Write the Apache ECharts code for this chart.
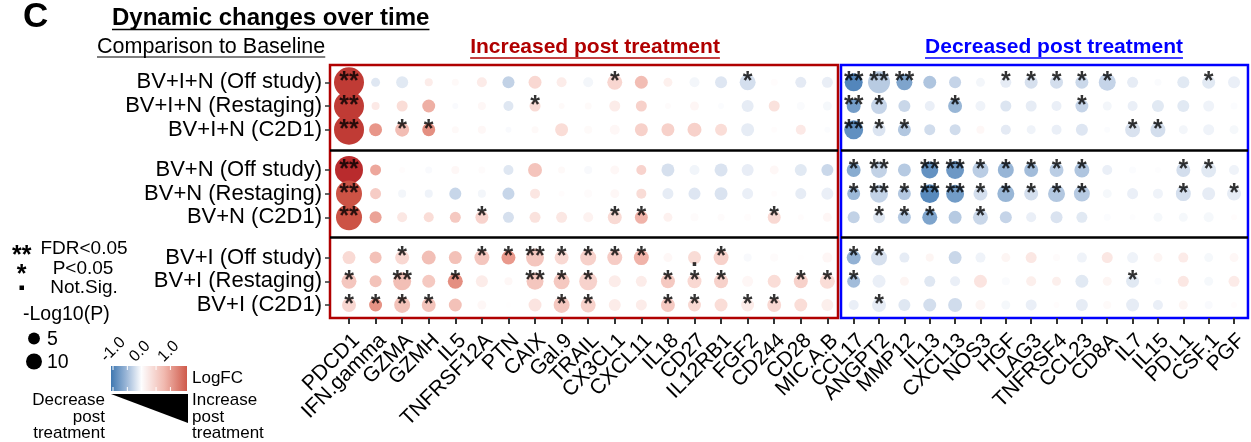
<!DOCTYPE html>
<html><head><meta charset="utf-8">
<script src="https://cdn.jsdelivr.net/npm/echarts@6/dist/echarts.min.js"></script>
<style>html,body{margin:0;padding:0;background:#fff}#c{width:1251px;height:442px}</style>
</head><body><div id="c"></div>
<script>
// ---------------- DATA ----------------
const genesUp = ['PDCD1','IFN.gamma','GZMA','GZMH','IL5','TNFRSF12A','PTN','CAIX','Gal.9','TRAIL','CX3CL1','CXCL11','IL18','CD27','IL12RB1','FGF2','CD244','CD28','MIC.A.B'];
const genesDown = ['CCL17','ANGPT2','MMP12','IL13','CXCL13','NOS3','HGF','LAG3','TNFRSF4','CCL23','CD8A','IL7','IL15','PD.L1','CSF.1','PGF'];
const rowLabels = ['BV+I+N (Off study)','BV+I+N (Restaging)','BV+I+N (C2D1)','BV+N (Off study)','BV+N (Restaging)','BV+N (C2D1)','BV+I (Off study)','BV+I (Restaging)','BV+I (C2D1)'];
const rowGroupSize = 3;

// LogFC per row (columns = genesUp then genesDown)
const logFC = [
 [1.95,-0.26,-0.24,0.15,0.05, 0.16,-0.47,0.31,0.15,-0.1, 0.33,0.6,0.12,-0.1,-0.27, -0.34,0.02,-0.22,-0.18,-1.15, -0.54,-0.9,-0.6,-0.45,-0.1, -0.2,-0.33,-0.35,-0.41,-0.45, -0.2,-0.04,-0.24,-0.24,-0.17],
 [1.95,0.17,0.27,0.72,-0.05, 0.06,-0.26,0.29,0.04,0.04, 0.15,0.39,0.03,0.07,-0.03, -0.2,0.23,-0.04,-0.08,-0.96, -0.45,-0.42,-0.17,-0.74,-0.13, -0.28,-0.2,-0.17,-0.45,-0.1, -0.17,-0.24,-0.24,-0.13,-0.03],
 [1.95,0.93,0.6,1.0,0.05, 0.06,-0.05,0.05,0.27,0.04, 0.06,0.39,0.39,0.39,0.27, -0.2,0.02,0.17,-0.03,-1.07, -0.29,-0.58,-0.37,-0.37,0.06, -0.22,-0.13,-0.17,-0.27,-0.03, -0.31,-0.35,-0.1,-0.13,-0.08],
 [2.2,0.78,0.02,-0.05,0.06, 0.03,-0.26,0.52,0.05,-0.06, 0.06,0.36,-0.33,-0.11,-0.3, -0.19,0.06,-0.24,-0.41,-0.83, -0.47,-0.55,-1.05,-1.0,-0.52, -0.75,-0.68,-0.52,-0.6,-0.17, -0.03,-0.02,-0.35,-0.24,-0.13],
 [1.6,0.44,-0.1,-0.13,-0.43, -0.1,-0.43,0.2,0.02,0.03, 0.06,0.28,-0.2,-0.27,-0.3, -0.17,0.02,-0.2,-0.17,-0.72, -0.47,-0.58,-1.12,-0.97,-0.35, -0.74,-0.35,-0.58,-0.55,-0.08, -0.17,-0.13,-0.35,-0.2,-0.2],
 [1.6,0.82,0.19,0.27,0.47, 0.36,-0.33,0.23,0.19,0.1, 0.29,0.68,0.11,0.03,0.03, 0.02,0.3,0.02,0.07,-0.47, -0.26,-0.57,-0.9,-0.55,-0.42, -0.45,-0.17,-0.3,-0.24,-0.03, -0.02,-0.08,-0.08,-0.08,0.02],
 [0.29,0.56,0.31,0.58,0.56, 0.5,0.9,0.5,0.3,0.39, 0.44,0.68,0.06,0.28,0.39, -0.06,0.03,0.01,0.07,-0.78, -0.33,-0.2,0.08,-0.42,-0.13, 0.08,0.19,0.03,-0.13,0.19, -0.13,0.08,0.16,-0.08,0.06],
 [0.5,0.54,0.58,0.47,1.0, 0.15,0.06,0.5,0.48,0.37, 0.15,0.15,0.47,0.31,0.39, 0.07,0.27,0.39,0.27,-0.68, -0.17,0.08,-0.26,-0.17,0.21, -0.04,0.13,0.13,-0.24,0.08, -0.24,-0.03,0.19,-0.08,0.16],
 [0.33,0.97,0.55,0.54,0.56, 0.06,0.01,0.21,0.48,0.39, 0.15,0.15,0.47,0.31,0.27, 0.16,0.31,0.27,0.13,-0.17, -0.2,-0.26,-0.35,-0.37,0.08, -0.08,-0.17,0.02,-0.2,0.04, -0.2,-0.17,0.08,-0.05,0.02]
];

// -Log10(P) per row
const negLog10P = [
 [40.5,2.5,5.2,1.9,1.3, 3.3,5.2,6.2,3.3,3.3, 8.7,6.2,2.5,3.3,5.2, 10.1,1.3,4.2,4.2,13.2, 20.7,10.1,6.2,5.2,2.5, 4.2,6.2,6.2,6.2,11.6, 4.2,1.3,5.2,6.2,5.2],
 [40.5,1.9,4.2,6.2,0.8, 1.9,3.3,4.2,0.8,1.3, 4.2,4.2,0.8,2.5,0.8, 5.2,4.2,1.9,2.5,7.4, 10.1,5.2,3.3,7.4,3.3, 4.2,4.2,3.3,6.2,2.5, 3.3,5.2,5.2,4.2,1.3],
 [40.5,6.2,7.4,6.2,1.3, 1.9,0.8,1.3,6.2,1.9, 3.3,6.2,6.2,7.4,5.2, 6.2,0.8,3.3,0.8,14.9, 6.2,6.2,4.2,4.2,1.9, 3.3,2.5,3.3,5.2,0.8, 8.7,8.7,2.5,4.2,2.5],
 [34.9,4.2,0.8,1.3,1.9, 1.3,3.3,7.4,1.3,1.9, 2.5,3.3,6.2,3.3,6.2, 5.2,2.5,5.2,5.2,7.4, 10.1,6.2,11.6,13.2,10.1, 10.1,7.4,7.4,8.7,3.3, 1.3,0.8,7.4,8.7,3.3],
 [29.8,4.2,1.9,1.9,5.2, 1.9,5.2,3.3,0.8,1.9, 2.5,3.3,4.2,5.2,6.2, 4.2,0.8,4.2,5.2,6.2, 13.2,6.2,14.9,13.2,7.4, 11.6,7.4,11.6,10.1,2.5, 4.2,3.3,8.7,6.2,7.4],
 [29.8,5.2,3.3,3.3,4.2, 6.2,4.2,4.2,4.2,3.3, 7.4,6.2,2.5,1.9,1.3, 1.3,6.2,0.8,2.5,5.2, 5.2,6.2,8.7,6.2,8.7, 5.2,3.3,5.2,4.2,1.3, 0.8,2.5,2.5,3.3,0.8],
 [6.2,5.2,7.4,7.4,6.2, 8.7,7.4,13.2,7.4,10.1, 8.7,8.7,2.5,6.2,8.7, 1.9,1.9,0.8,3.3,7.4, 10.1,3.3,1.9,6.2,3.3, 2.5,4.2,1.3,3.3,4.2, 4.2,2.5,3.3,2.5,2.5],
 [8.7,5.2,13.2,6.2,8.7, 5.2,1.9,11.6,10.1,13.2, 5.2,4.2,7.4,7.4,7.4, 4.2,6.2,7.4,8.7,6.2, 6.2,2.5,4.2,3.3,6.2, 1.9,3.3,2.5,6.2,2.5, 6.2,1.3,4.2,2.5,4.2],
 [7.4,6.2,10.1,7.4,6.2, 2.5,0.8,6.2,10.1,8.7, 5.2,4.2,7.4,6.2,6.2, 6.2,7.4,6.2,5.2,3.3, 7.4,5.2,6.2,7.4,3.3, 2.5,4.2,0.8,5.2,1.9, 6.2,3.3,2.5,1.9,0.8]
];

// Significance marks: '**' FDR<0.05, '*' P<0.05, '.' Not.Sig.
const signif = [
 ['**','','','','', '','','','','', '*','','','','', '*','','','','**', '**','**','','','', '*','*','*','*','*', '','','','*',''],
 ['**','','','','', '','','*','','', '','','','','', '','','','','**', '*','','','*','', '','','','*','', '','','','',''],
 ['**','','*','*','', '','','','','', '','','','','', '','','','','**', '*','*','','','', '','','','','', '*','*','','',''],
 ['**','','','','', '','','','','', '','','','','', '','','','','*', '**','','**','**','*', '*','*','*','*','', '','','*','*',''],
 ['**','','','','', '','','','','', '','','','','', '','','','','*', '**','*','**','**','*', '*','*','*','*','', '','','*','','*'],
 ['**','','','','', '*','','','','', '*','*','','','', '','*','','','', '*','*','*','','*', '','','','','', '','','','',''],
 ['','','*','','', '*','*','**','*','*', '*','*','','.','*', '','','','','*', '*','','','','', '','','','','', '','','','',''],
 ['*','','**','','*', '','','**','*','*', '','','*','*','*', '','','*','*','*', '','','','','', '','','','','', '*','','','',''],
 ['*','*','*','*','', '','','','*','*', '','','*','*','', '*','*','','','', '*','','','','', '','','','','', '','','','','']
];

const colorTicks = [-1.0, 0.0, 1.0];
const sizeBreaks = [5, 10];

// ---------------- LAYOUT / STYLE ----------------
const FONT = 'Liberation Sans, Arial, Helvetica, sans-serif';
const GROUP_STEP = 3.7;
const rowPos = r => Math.floor(r / rowGroupSize) * GROUP_STEP + (r % rowGroupSize);
const Y_MIN = -0.73, Y_MAX = 9.95;
const separators = [];
for (let g = 1; g < rowLabels.length / rowGroupSize; g++) {
  separators.push((rowPos(g * rowGroupSize - 1) + rowPos(g * rowGroupSize)) / 2);
}
const sizeFn = v => 2 + 4.4 * Math.sqrt(v);
const palette = ['#4a80b8','#7ea4cc','#afc5df','#dae3f0','#ffffff','#f9d9d3','#f2bdb4','#e9998c','#db7a6b','#cf5a4b','#c5463a','#bb3030','#b52226'];

const nUp = genesUp.length;
function buildData(offset, count) {
  const out = [];
  for (let r = 0; r < rowLabels.length; r++) {
    for (let c = 0; c < count; c++) {
      const k = offset + c;
      out.push([c, rowPos(r), logFC[r][k], negLog10P[r][k]]);
    }
  }
  return out;
}
function buildMarks(offset, count) {
  const out = [];
  for (let r = 0; r < rowLabels.length; r++) {
    for (let c = 0; c < count; c++) {
      const s = signif[r][offset + c];
      if (s) out.push({ value: [c, rowPos(r)], label: { formatter: s, offset: s === '.' ? [0, 2] : [0, 0] } });
    }
  }
  return out;
}

const ctx = document.createElement('canvas').getContext('2d');
function tw(font, s) { ctx.font = font; return ctx.measureText(s).width; }

const yCustom = rowLabels.map((_, r) => rowPos(r));
function yLabel(v) {
  let best = 0, bd = 1e9;
  yCustom.forEach((p, i) => { const d = Math.abs(p - v); if (d < bd) { bd = d; best = i; } });
  return rowLabels[best];
}

// x axis builder: dummy empty labels at the ends keep every real label visible
function makeX(gridIndex, names, min, max) {
  const idx = names.map((_, i) => i);
  return {
    type: 'value', gridIndex, min, max,
    splitLine: { show: false }, axisLine: { show: false, onZero: false },
    axisTick: { show: true, length: 6, customValues: idx, lineStyle: { color: '#333', width: 2 } },
    axisLabel: {
      customValues: [min + 0.01].concat(idx, [max - 0.01]),
      formatter: v => (Math.abs(v - Math.round(v)) < 1e-6 ? names[Math.round(v)] : ''),
      rotate: 45, fontSize: 21, fontFamily: FONT, color: '#000', margin: 12, align: 'right', verticalAlign: 'top',
      interval: 0, hideOverlap: false
    }
  };
}

const pointSeries = {
  type: 'scatter',
  symbolSize: v => sizeFn(v[3]),
  itemStyle: { opacity: 1 },
  label: { show: false },
  emphasis: { disabled: true },
  z: 2,
  markLine: {
    silent: true, symbol: ['none', 'none'], label: { show: false },
    lineStyle: { color: '#000', width: 2.5, type: 'solid' },
    data: separators.map(s => ({ yAxis: s }))
  },
  animation: false
};
const markSeries = {
  type: 'scatter', symbol: 'circle', symbolSize: 1, z: 5,
  itemStyle: { color: 'rgba(0,0,0,0)' },
  label: { show: true, position: 'inside', fontSize: 25, fontWeight: 'bold', fontFamily: FONT, color: '#000' },
  emphasis: { disabled: true }, silent: true, animation: false
};

// legend pieces
const cbX0 = 111, cbX1 = 187, cbY0 = 366, cbY1 = 391;
const cbZero = 141.7, cbUnit = 28.7;
const graphics = [];
function txt(x, y, text, size, opts) {
  opts = opts || {};
  graphics.push({ type: 'text', x, y, rotation: opts.rotation || 0, z: 10, style: {
    text, fontSize: size, fontFamily: FONT, fontWeight: opts.weight || 'normal', fill: opts.color || '#000',
    align: opts.align || 'left', verticalAlign: opts.valign || 'middle', lineHeight: opts.lineHeight
  }});
}
function uline(x, y, w, color, lw) {
  graphics.push({ type: 'line', z: 10, shape: { x1: x, y1: y, x2: x + w, y2: y }, style: { stroke: color, lineWidth: lw } });
}
// Panel letter and titles
txt(23, 17, 'C', 35, { weight: 'bold' });
txt(112, 18, 'Dynamic changes over time', 24, { weight: 'bold' });
uline(112, 29.5, tw('bold 24px ' + FONT, 'Dynamic changes over time'), '#000', 1.6);
txt(97, 47.5, 'Comparison to Baseline', 21.5);
uline(97, 57, tw('21.5px ' + FONT, 'Comparison to Baseline'), '#000', 1.2);
const upT = 'Increased post treatment', dnT = 'Decreased post treatment';
const wUp = tw('bold 21px ' + FONT, upT), wDn = tw('bold 21px ' + FONT, dnT);
txt(595, 47, upT, 21, { weight: 'bold', color: '#b00000', align: 'center' });
uline(595 - wUp / 2, 58, wUp, '#b00000', 1.3);
txt(1054, 47, dnT, 21, { weight: 'bold', color: '#0000ff', align: 'center' });
uline(1054 - wDn / 2, 58, wDn, '#0000ff', 1.3);

// significance legend
txt(21.7, 256, '**', 25, { align: 'center', weight: 'bold' });
txt(84, 249, 'FDR<0.05', 19, { align: 'center' });
txt(21.7, 275, '*', 25, { align: 'center', weight: 'bold' });
txt(83, 268.5, 'P<0.05', 19, { align: 'center' });
graphics.push({ type: 'rect', shape: { x: 19.5, y: 285.5, width: 4.5, height: 4.5 }, style: { fill: '#000' } });
txt(84, 288, 'Not.Sig.', 19, { align: 'center' });
// size legend
txt(23, 315, '-Log10(P)', 19.5);
const sizeY = [338.5, 361.5];
sizeBreaks.forEach((b, i) => {
  graphics.push({ type: 'circle', shape: { cx: 34, cy: sizeY[i], r: sizeFn(b) / 2 }, style: { fill: '#000' } });
  txt(47, sizeY[i] + 1, String(b), 19.5);
});
// colour bar legend
graphics.push({ type: 'rect', shape: { x: cbX0, y: cbY0, width: cbX1 - cbX0, height: cbY1 - cbY0 },
  style: { fill: new echarts.graphic.LinearGradient(0, 0, 1, 0, [
    { offset: 0, color: '#3f78b1' }, { offset: 0.2, color: '#9ab6d7' }, { offset: 0.4, color: '#fdfdfe' },
    { offset: 0.7, color: '#f1b9af' }, { offset: 1, color: '#cf5a4b' }]) } });
[-1, -0.5, 0, 0.5, 1].forEach(t => {
  const x = cbZero + t * cbUnit;
  graphics.push({ type: 'line', z: 11, shape: { x1: x, y1: cbY0, x2: x, y2: cbY0 + 4 }, style: { stroke: '#fff', lineWidth: 1 } });
  graphics.push({ type: 'line', z: 11, shape: { x1: x, y1: cbY1 - 4, x2: x, y2: cbY1 }, style: { stroke: '#fff', lineWidth: 1 } });
});
colorTicks.forEach(t => {
  txt(cbZero + t * cbUnit - 4, cbY0 - 1, t.toFixed(1), 16, { rotation: Math.PI / 4, valign: 'bottom' });
});
txt(192, 378.5, 'LogFC', 17);
graphics.push({ type: 'polygon', shape: { points: [[cbX0, 394], [cbX1 + 1, 394], [cbX1 + 1, 423]] }, style: { fill: '#000' } });
txt(105, 417, 'Decrease\npost\ntreatment', 17, { align: 'right', lineHeight: 16.5 });
txt(192, 417, 'Increase\npost\ntreatment', 17, { align: 'left', lineHeight: 16.5 });

const option = {
  backgroundColor: '#fff',
  animation: false,
  grid: [
    { left: 330, top: 65, width: 508, height: 253, show: true, borderColor: '#b00000', borderWidth: 2.5, backgroundColor: 'transparent' },
    { left: 841, top: 65, width: 408, height: 253, show: true, borderColor: '#0000ff', borderWidth: 2.5, backgroundColor: 'transparent' }
  ],
  xAxis: [
    makeX(0, genesUp, -0.715, 18.4),
    makeX(1, genesDown, -0.5, 15.55)
  ],
  yAxis: [
    { type: 'value', gridIndex: 0, inverse: true, min: Y_MIN, max: Y_MAX, splitLine: { show: false }, axisLine: { show: false, onZero: false },
      axisTick: { show: true, length: 5, customValues: yCustom, lineStyle: { color: '#333', width: 1.5 } },
      axisLabel: { customValues: yCustom, formatter: yLabel, fontSize: 22, fontFamily: FONT, color: '#000', margin: 8,
        showMinLabel: true, showMaxLabel: true } },
    { type: 'value', gridIndex: 1, inverse: true, min: Y_MIN, max: Y_MAX, show: false, splitLine: { show: false }, axisLine: { onZero: false } }
  ],
  visualMap: [{ type: 'continuous', show: false, min: -1.2, max: 2.4, dimension: 2, seriesIndex: [0, 1], inRange: { color: palette } }],
  series: [
    Object.assign({}, pointSeries, { xAxisIndex: 0, yAxisIndex: 0, data: buildData(0, nUp) }),
    Object.assign({}, pointSeries, { xAxisIndex: 1, yAxisIndex: 1, data: buildData(nUp, genesDown.length) }),
    Object.assign({}, markSeries, { xAxisIndex: 0, yAxisIndex: 0, data: buildMarks(0, nUp) }),
    Object.assign({}, markSeries, { xAxisIndex: 1, yAxisIndex: 1, data: buildMarks(nUp, genesDown.length) })
  ],
  graphic: graphics
};
const chart = echarts.init(document.getElementById('c'), null, { renderer: 'canvas' });
chart.setOption(option);
</script>
</body></html>
